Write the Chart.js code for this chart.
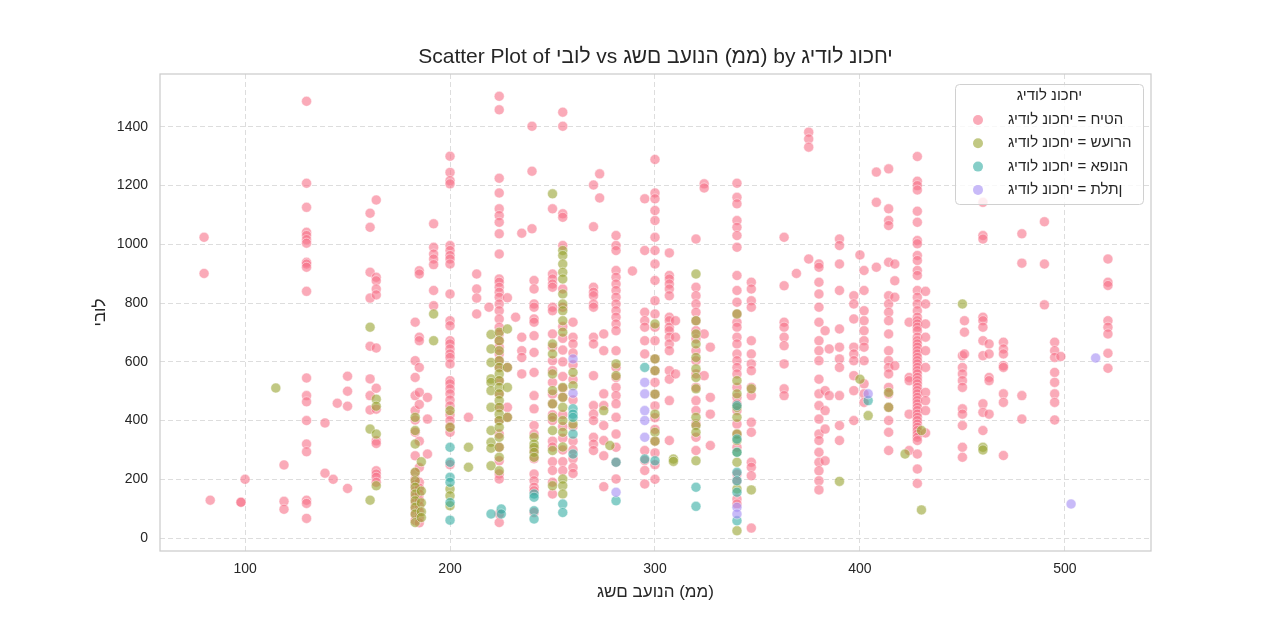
<!DOCTYPE html>
<html>
<head>
<meta charset="utf-8">
<script src="https://cdn.jsdelivr.net/npm/chart.js@4.4.1/dist/chart.umd.min.js"></script>
<style>
  html, body { margin: 0; padding: 0; background: #fff; }
  canvas { display: block; }
</style>
</head>
<body>
<canvas id="chart" width="1280" height="620"></canvas>
<script>
// labels (hebrew is drawn left-to-right, like the original picture)
const yName = 'יבול';
const xName = 'גשם בעונה (ממ)';
const hueName = 'גידול נוכחי';
const cropNames = ['חיטה', 'שעורה', 'אפונה', 'תלתן'];
const cropColors = ['247,113,137', '151,164,49', '54,173,164', '164,140,244'];

const xTicks = [100, 200, 300, 400, 500];
const yTicks = [0, 200, 400, 600, 800, 1000, 1200, 1400];

// points grouped by x position: [x, [y, y, ...]]
const wheatCols = [
  [80, [1024, 901]],
  [83, [129]],
  [98, [122, 122]],
  [100, [200]],
  [119, [249, 125, 98]],
  [130, [1487, 1208, 1126, 1041, 1030, 1016, 1004, 939, 933, 922, 840, 545, 485, 464, 400, 320, 294, 129, 118, 67]],
  [139, [392, 221]],
  [143, [200]],
  [145, [459]],
  [150, [551, 500, 449, 169]],
  [161, [1106, 1058, 905, 817, 653, 542, 485, 436]],
  [164, [1151, 888, 876, 848, 828, 647, 510, 439, 331, 322, 229, 218, 207, 190]],
  [183, [735, 604, 547, 485, 434, 402, 360, 280, 222, 200, 182, 160, 140, 120, 100, 80, 60]],
  [185, [910, 899, 684, 672, 581, 496, 455, 330, 240, 190, 170, 150, 130, 110, 90, 70, 52]],
  [189, [479, 405, 286]],
  [192, [1070, 990, 967, 950, 931, 843, 791]],
  [200, [1300, 1245, 1217, 1206, 996, 979, 962, 950, 933, 831, 740, 723, 672, 661, 644, 627, 615, 593, 536, 525, 508, 491, 470, 450, 420, 400, 380, 360, 250]],
  [209, [411]],
  [213, [899, 848, 817, 763]],
  [219, [786]],
  [224, [1504, 1458, 1225, 1175, 1121, 1098, 1075, 1036, 967, 882, 871, 854, 837, 820, 797, 774, 746, 718, 695, 672, 650, 627, 604, 581, 536, 491, 445, 400, 354, 309, 263, 218, 201, 82, 53]],
  [228, [818, 581, 445, 411]],
  [232, [752]],
  [235, [1038, 684, 638, 615, 559]],
  [240, [1402, 1249, 1053]],
  [241, [877, 848, 797, 786, 746, 735, 689, 632, 564, 485, 440, 383, 354, 300, 270, 218, 195, 173, 161, 87]],
  [250, [1121, 899, 882, 865, 854, 786, 774, 695, 650, 604, 570, 530, 490, 457, 420, 400, 330, 310, 260, 230, 190, 150]],
  [255, [1450, 1402, 1104, 1092, 996, 848, 786, 720, 680, 640, 600, 550, 510, 480, 420, 380, 340, 300, 260, 230]],
  [260, [735, 684, 661, 630, 590, 540, 470, 380, 330, 300, 270, 240, 220]],
  [270, [1202, 1060, 854, 837, 825, 797, 786, 684, 661, 553, 451, 422, 400, 343, 320, 298]],
  [273, [1240, 1158]],
  [275, [695, 638, 491, 451, 383, 332, 280, 175]],
  [281, [1030, 996, 979, 911, 888, 865, 843, 820, 797, 774, 752, 729, 706, 638, 581, 547, 513, 485, 457, 411, 354, 309, 258, 201]],
  [289, [909]],
  [295, [1155, 979, 769, 740, 718, 672, 627, 298, 264, 230, 184]],
  [300, [1289, 1175, 1155, 1115, 1081, 1024, 979, 933, 877, 808, 763, 718, 672, 610, 570, 530, 490, 450, 410, 370, 330, 290, 250, 200]],
  [307, [971, 894, 882, 865, 848, 825, 752, 740, 718, 706, 684, 661, 638, 570, 541, 468, 332]],
  [310, [740, 684, 559]],
  [320, [1018, 854, 825, 797, 769, 740, 706, 678, 638, 604, 559, 513, 468, 434, 388, 343, 298]],
  [324, [1206, 1192, 695, 553]],
  [327, [650, 479, 422, 315]],
  [340, [1208, 1160, 1138, 1081, 1058, 1030, 990, 894, 843, 803, 763, 735, 718, 684, 661, 627, 604, 581, 559, 513, 479, 457, 434, 388, 354, 309, 218, 195, 133, 116]],
  [347, [871, 848, 808, 786, 672, 627, 593, 570, 513, 485, 394, 360, 258, 241, 212, 34]],
  [363, [1024, 859, 735, 718, 684, 655, 593, 508, 485]],
  [369, [901]],
  [375, [1382, 1359, 1331, 950]],
  [380, [933, 922, 871, 831, 786, 735, 672, 638, 604, 541, 491, 451, 405, 354, 332, 292, 258, 229, 195, 164]],
  [383, [706, 502, 434, 371, 263]],
  [385, [644, 485]],
  [390, [1018, 996, 933, 843, 712, 650, 610, 581, 485, 383, 332]],
  [397, [825, 797, 746, 650, 627, 604, 553, 502, 400]],
  [400, [964]],
  [402, [911, 843, 774, 740, 706, 672, 650, 604, 525, 491, 462]],
  [408, [1246, 1143, 922]],
  [414, [1257, 1121, 1081, 1064, 939, 825, 797, 769, 740, 695, 638, 604, 581, 559, 513, 491, 445, 400, 360, 298]],
  [417, [933, 876, 820, 587]],
  [424, [735, 547, 536, 422, 298]],
  [428, [1299, 1215, 1200, 1185, 1113, 1075, 1013, 1002, 962, 945, 911, 894, 843, 820, 797, 774, 752, 740, 729, 718, 706, 684, 672, 661, 650, 638, 627, 615, 604, 593, 581, 570, 559, 547, 536, 525, 513, 502, 491, 479, 468, 457, 445, 434, 422, 411, 400, 388, 377, 366, 354, 343, 332, 286, 235, 186]],
  [432, [840, 797, 729, 684, 638, 581, 496, 468, 434, 358]],
  [450, [621, 581, 559, 536, 513, 440, 422, 383, 309, 275]],
  [451, [740, 701, 627]],
  [460, [1143, 1030, 1018, 752, 740, 718, 672, 621, 457, 428, 366]],
  [463, [661, 627, 547, 536, 422]],
  [470, [667, 644, 627, 587, 581, 491, 462, 281]],
  [479, [1036, 936, 485, 405]],
  [490, [1077, 933, 794]],
  [495, [667, 638, 615, 564, 530, 491, 462, 402]],
  [498, [618]],
  [521, [950, 871, 860, 740, 718, 695, 629, 578]]
];

const barleyCols = [
  [115, [511]],
  [161, [718, 371, 129]],
  [164, [473, 449, 354, 178]],
  [183, [411, 366, 320, 224, 195, 173, 150, 127, 105, 82, 53]],
  [186, [260, 160, 120, 90, 70]],
  [192, [763, 672]],
  [200, [434, 377, 167, 144, 110]],
  [209, [309, 241]],
  [220, [693, 644, 598, 542, 530, 502, 445, 366, 326, 306, 246]],
  [224, [701, 672, 638, 604, 581, 559, 536, 513, 491, 468, 445, 422, 400, 377, 343, 309, 275, 229]],
  [228, [712, 581, 513, 411]],
  [241, [343, 320, 309, 292, 275]],
  [250, [1172, 661, 627, 559, 502, 457, 411, 366, 298, 178]],
  [255, [979, 962, 933, 905, 882, 831, 797, 774, 740, 701, 513, 479, 445, 400, 360, 310, 201, 178, 150]],
  [260, [564, 519, 388]],
  [275, [434]],
  [278, [315]],
  [281, [593, 553]],
  [300, [729, 610, 570, 490, 422, 360, 330]],
  [309, [269, 261]],
  [320, [899, 740, 695, 661, 615, 576, 547, 508, 411, 383, 360, 263]],
  [340, [763, 536, 491, 445, 411, 354, 332, 292, 258, 167, 25]],
  [347, [508, 164]],
  [390, [193]],
  [400, [541]],
  [404, [417]],
  [414, [496, 445]],
  [422, [286]],
  [430, [366, 96]],
  [450, [797]],
  [460, [309, 300]]
];

const peasCols = [
  [200, [309, 258, 207, 190, 121, 61]],
  [220, [82]],
  [225, [99, 82]],
  [241, [150, 139, 93, 65]],
  [255, [116, 87]],
  [260, [440, 422, 411, 354, 286]],
  [281, [258, 127]],
  [295, [581, 269]],
  [300, [263]],
  [320, [173, 108]],
  [340, [451, 337, 292, 224, 195, 156, 59]],
  [404, [468]]
];

const cloverCols = [
  [260, [610, 493]],
  [281, [156]],
  [295, [530, 491, 434, 400, 343]],
  [340, [105, 82]],
  [404, [491]],
  [503, [116]],
  [515, [613]]
];

const LRO = '\u202D', PDF = '\u202C';
const ltr = s => LRO + s + PDF;
const FONT = "'Liberation Sans', Arial, sans-serif";
const TEXT = '#262626';

function toPoints(cols) {
  const pts = [];
  cols.forEach(([x, ys]) => ys.forEach(y => pts.push({ x: x, y: y })));
  return pts;
}

const allCols = [wheatCols, barleyCols, peasCols, cloverCols];
const datasets = allCols.map((cols, i) => ({
  label: cropNames[i],
  data: toPoints(cols),
  backgroundColor: 'rgba(' + cropColors[i] + ',0.6)',
  borderColor: 'rgba(255,255,255,0.6)',
  borderWidth: 0.75,
  pointRadius: 5,
  order: 4 - i
}));

// box around the plot, title over the plot area, legend in the upper right corner
const framePlugin = {
  id: 'frame',
  afterDatasetsDraw(chart) {
    const a = chart.chartArea, ctx = chart.ctx;
    ctx.save();
    ctx.strokeStyle = '#cccccc';
    ctx.lineWidth = 1.25;
    ctx.strokeRect(a.left, a.top, a.right - a.left, a.bottom - a.top);
    ctx.restore();
  },
  afterDraw(chart) {
    const ctx = chart.ctx, a = chart.chartArea;
    ctx.save();
    ctx.fillStyle = TEXT;
    ctx.font = '21px ' + FONT;
    ctx.textAlign = 'center';
    ctx.textBaseline = 'middle';
    ctx.fillText(ltr('Scatter Plot of ' + yName + ' vs ' + xName + ' by ' + hueName), (a.left + a.right) / 2, 57);

    const bx = 955.5, by = 84.5, bw = 188, bh = 120;
    ctx.beginPath();
    ctx.roundRect(bx, by, bw, bh, 4);
    ctx.fillStyle = 'rgba(255,255,255,0.8)';
    ctx.fill();
    ctx.strokeStyle = '#d0d0d0';
    ctx.lineWidth = 1;
    ctx.stroke();
    ctx.fillStyle = TEXT;
    ctx.font = '15px ' + FONT;
    ctx.textAlign = 'center';
    ctx.fillText(ltr(hueName), bx + bw / 2, 96);
    ctx.textAlign = 'left';
    cropNames.forEach((name, i) => {
      const y = 120 + i * 23.3;
      ctx.beginPath();
      ctx.arc(978, y, 5, 0, Math.PI * 2);
      ctx.fillStyle = 'rgba(' + cropColors[i] + ',0.6)';
      ctx.fill();
      ctx.fillStyle = TEXT;
      ctx.fillText(ltr(hueName + ' = ' + name), 1008, y);
    });
    ctx.restore();
  }
};

new Chart(document.getElementById('chart').getContext('2d'), {
  type: 'scatter',
  data: { datasets: datasets },
  options: {
    responsive: false,
    animation: false,
    events: [],
    layout: { padding: { left: 86, right: 129, top: 74, bottom: 13 } },
    plugins: {
      legend: { display: false },
      tooltip: { enabled: false },
      title: { display: false }
    },
    scales: {
      x: {
        type: 'linear',
        min: 58.5,
        max: 542,
        afterFit: s => { s.height = 56; },
        afterBuildTicks: s => { s.ticks = xTicks.map(v => ({ value: v })); },
        grid: { color: '#dddddd', lineWidth: 1, drawTicks: false },
        border: { display: false, dash: [5, 3] },
        ticks: { color: TEXT, padding: 10, font: { family: FONT, size: 14 }, callback: v => String(v) },
        title: {
          display: true,
          text: ltr(xName),
          color: TEXT,
          font: { family: FONT, size: 17 },
          padding: { top: 4, bottom: 4 }
        }
      },
      y: {
        type: 'linear',
        min: -44,
        max: 1580,
        afterFit: s => { s.width = 74; },
        afterBuildTicks: s => { s.ticks = yTicks.map(v => ({ value: v })); },
        grid: { color: '#dddddd', lineWidth: 1, drawTicks: false },
        border: { display: false, dash: [5, 3] },
        ticks: { color: TEXT, padding: 12, font: { family: FONT, size: 14 }, callback: v => String(v) },
        title: {
          display: true,
          text: ltr(yName),
          color: TEXT,
          font: { family: FONT, size: 17 },
          padding: { top: 4, bottom: 4 }
        }
      }
    }
  },
  plugins: [framePlugin]
});
</script>
</body>
</html>
